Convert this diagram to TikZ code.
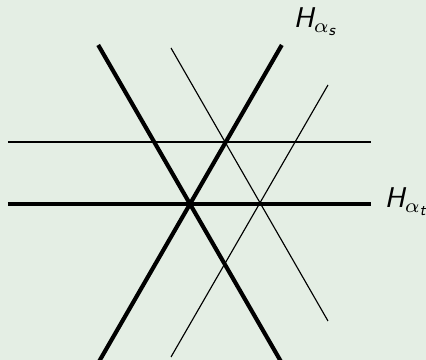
\documentclass[tikz,border=0pt]{standalone}
\definecolor{bgcol}{RGB}{228,238,228}
\newcommand{\sfsub}[1]{\mbox{\fontsize{5.5pt}{6pt}\selectfont\sffamily\itshape #1}}
\tikzset{
  thickline/.style={line width=1.45pt, black},
  thinline/.style={line width=0.4pt, black},
  lab/.style={inner sep=0pt, anchor=base west, font=\sffamily\itshape}
}
\begin{document}
\begin{tikzpicture}[x=0.35pt,y=-0.35pt]
\useasboundingbox (0,0) rectangle (426,360);
\fill[bgcol] (0,0) rectangle (426,360);
\clip (0,0) rectangle (426,360);
% coordinates
\coordinate (hL) at (8,204);
\coordinate (hR) at (371,204);
\coordinate (tL) at (8,142);
\coordinate (tR) at (371,142);
\coordinate (aTop) at (98.2,45);
\coordinate (aBot) at (281.8,363);
\coordinate (bTop) at (281.8,45);
\coordinate (bBot) at (98.2,363);
\coordinate (cTop) at (171,48);
\coordinate (cBot) at (328,321);
\coordinate (dTop) at (328,85);
\coordinate (dBot) at (171,357);
% thin lines
\draw[thinline] (tL) -- (tR);
\draw[thinline] (cTop) -- (cBot);
\draw[thinline] (dBot) -- (dTop);
% thick lines
\draw[thickline] (hL) -- (hR);
\draw[thickline] (aTop) -- (aBot);
\draw[thickline] (bBot) -- (bTop);
% labels
\node[lab] (ls) at (293,28) {H$_{\alpha_{\sfsub{s}}}$};
\node[lab] (lt) at (384,208) {H$_{\alpha_{\sfsub{t}}}$};
\end{tikzpicture}
\end{document}
